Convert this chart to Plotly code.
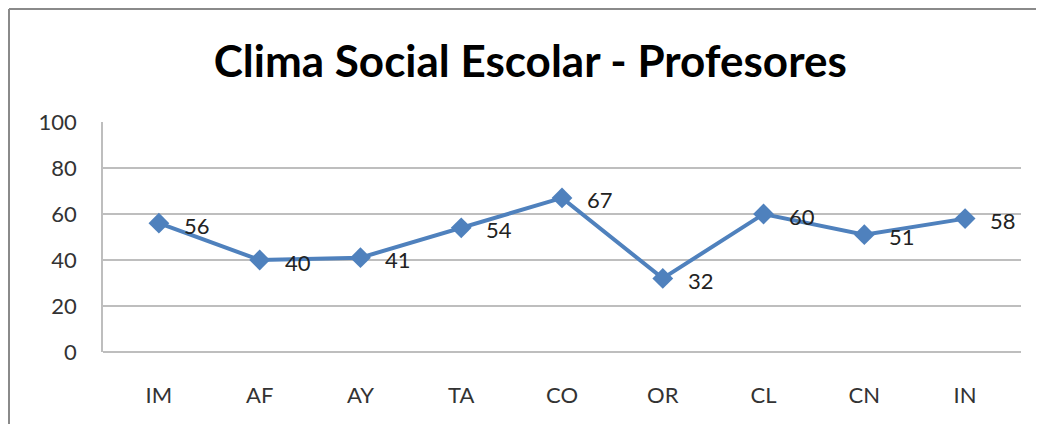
import plotly.graph_objects as go

categories = ["IM", "AF", "AY", "TA", "CO", "OR", "CL", "CN", "IN"]
values = [56, 40, 41, 54, 67, 32, 60, 51, 58]
y_ticks = [0, 20, 40, 60, 80, 100]

line_color = "#4F81BD"
grid_color = "#BEBEBE"
font_family = "Lato, 'Open Sans', sans-serif"

fig = go.Figure()

fig.add_trace(go.Scatter(
    x=categories,
    y=values,
    mode="lines+markers",
    line=dict(color=line_color, width=4),
    marker=dict(symbol="diamond", size=16, color=line_color),
    hoverinfo="x+y",
    showlegend=False,
))

# data labels sit to the right of each point
for cat, val in zip(categories, values):
    fig.add_annotation(
        x=cat, y=val, text=str(val),
        xanchor="left", yanchor="middle",
        xshift=23, yshift=-2,
        showarrow=False,
        font=dict(family=font_family, size=22, color="#222222"),
    )

# chart frame (only top and left edges show in the crop)
frame = dict(color="#8A8A8A", width=2)
fig.add_shape(type="line", xref="paper", yref="paper",
              x0=-0.1024, x1=1.02, y0=1.4913, y1=1.4913, line=frame)
fig.add_shape(type="line", xref="paper", yref="paper",
              x0=-0.1024, x1=-0.1024, y0=1.4913, y1=-0.33, line=frame)

fig.update_layout(
    width=1028,
    height=416,
    margin=dict(l=95, r=15, t=114, b=72),
    paper_bgcolor="white",
    plot_bgcolor="white",
    title=dict(
        text="<b>Clima Social Escolar - Profesores</b>",
        x=0.508, xanchor="center",
        y=0.87, yanchor="middle",
        font=dict(family=font_family, size=44, color="#000000"),
    ),
    font=dict(family=font_family, size=22, color="#333333"),
)

fig.update_xaxes(
    type="category",
    showgrid=False,
    showline=False,
    zeroline=False,
    ticks="",
    ticklabelstandoff=28,
    tickfont=dict(size=22, color="#333333"),
)

fig.update_yaxes(
    range=[0, 100],
    tickvals=y_ticks,
    showgrid=True,
    gridcolor=grid_color,
    gridwidth=1.5,
    showline=True,
    linecolor=grid_color,
    linewidth=1.5,
    zeroline=True,
    zerolinecolor=grid_color,
    zerolinewidth=1.5,
    ticks="",
    ticklabelstandoff=20,
    tickfont=dict(size=22, color="#333333"),
)

fig.write_html("out.html")
